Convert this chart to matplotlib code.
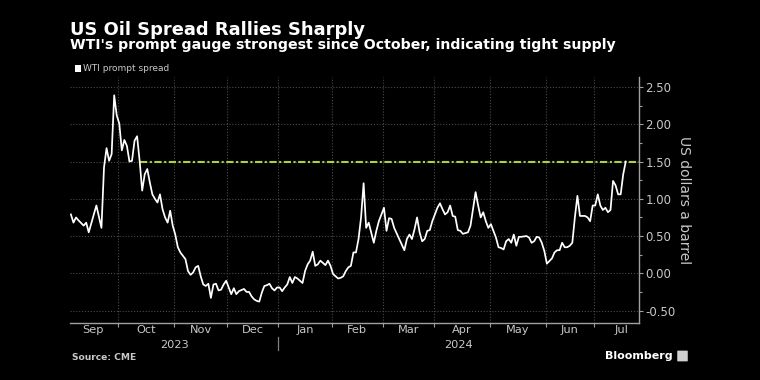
import matplotlib
matplotlib.use("Agg")
import matplotlib.pyplot as plt
import matplotlib.transforms as mtransforms
from matplotlib.patches import Rectangle, FancyBboxPatch
from matplotlib.ticker import FixedLocator, MultipleLocator, NullFormatter
import pandas as pd

# ---- data (WTI prompt spread, US$/bbl) ----
dates = [
    "2023-09-05", "2023-09-06", "2023-09-07", "2023-09-08", "2023-09-12", "2023-09-13",
    "2023-09-14", "2023-09-19", "2023-09-21", "2023-09-22", "2023-09-25", "2023-09-26",
    "2023-09-27", "2023-09-28", "2023-09-29", "2023-10-02", "2023-10-03", "2023-10-04",
    "2023-10-05", "2023-10-06", "2023-10-09", "2023-10-10", "2023-10-11", "2023-10-12",
    "2023-10-13", "2023-10-16", "2023-10-17", "2023-10-18", "2023-10-19", "2023-10-20",
    "2023-10-23", "2023-10-24", "2023-10-25", "2023-10-26", "2023-10-27", "2023-10-30",
    "2023-10-31", "2023-11-01", "2023-11-02", "2023-11-03", "2023-11-07", "2023-11-08",
    "2023-11-09", "2023-11-10", "2023-11-13", "2023-11-14", "2023-11-15", "2023-11-16",
    "2023-11-17", "2023-11-20", "2023-11-21", "2023-11-22", "2023-11-24", "2023-11-27",
    "2023-11-28", "2023-11-29", "2023-11-30", "2023-12-01", "2023-12-04", "2023-12-05",
    "2023-12-06", "2023-12-07", "2023-12-11", "2023-12-12", "2023-12-13", "2023-12-14",
    "2023-12-15", "2023-12-18", "2023-12-19", "2023-12-20", "2023-12-21", "2023-12-22",
    "2023-12-26", "2023-12-27", "2023-12-28", "2023-12-29", "2024-01-02", "2024-01-03",
    "2024-01-04", "2024-01-05", "2024-01-08", "2024-01-09", "2024-01-10", "2024-01-11",
    "2024-01-12", "2024-01-16", "2024-01-17", "2024-01-18", "2024-01-19", "2024-01-22",
    "2024-01-23", "2024-01-24", "2024-01-25", "2024-01-26", "2024-01-29", "2024-01-30",
    "2024-01-31", "2024-02-01", "2024-02-02", "2024-02-05", "2024-02-06", "2024-02-07",
    "2024-02-08", "2024-02-09", "2024-02-12", "2024-02-13", "2024-02-14", "2024-02-15",
    "2024-02-16", "2024-02-20", "2024-02-21", "2024-02-22", "2024-02-26", "2024-02-27",
    "2024-02-28", "2024-03-01", "2024-03-04", "2024-03-05", "2024-03-06", "2024-03-07",
    "2024-03-11", "2024-03-13", "2024-03-14", "2024-03-15", "2024-03-18", "2024-03-19",
    "2024-03-20", "2024-03-21", "2024-03-22", "2024-03-25", "2024-03-26", "2024-03-27",
    "2024-03-28", "2024-04-02", "2024-04-03", "2024-04-04", "2024-04-05", "2024-04-08",
    "2024-04-09", "2024-04-10", "2024-04-11", "2024-04-12", "2024-04-15", "2024-04-16",
    "2024-04-18", "2024-04-19", "2024-04-23", "2024-04-24", "2024-04-25", "2024-04-26",
    "2024-04-29", "2024-04-30", "2024-05-01", "2024-05-02", "2024-05-03", "2024-05-06",
    "2024-05-07", "2024-05-08", "2024-05-09", "2024-05-10", "2024-05-13", "2024-05-14",
    "2024-05-15", "2024-05-16", "2024-05-17", "2024-05-21", "2024-05-22", "2024-05-23",
    "2024-05-24", "2024-05-28", "2024-05-29", "2024-05-30", "2024-05-31", "2024-06-03",
    "2024-06-05", "2024-06-06", "2024-06-07", "2024-06-10", "2024-06-11", "2024-06-12",
    "2024-06-13", "2024-06-14", "2024-06-17", "2024-06-18", "2024-06-20", "2024-06-21",
    "2024-06-25", "2024-06-26", "2024-06-27", "2024-06-28", "2024-07-01", "2024-07-02",
    "2024-07-03", "2024-07-05", "2024-07-08", "2024-07-09", "2024-07-10", "2024-07-11",
    "2024-07-12", "2024-07-15", "2024-07-16", "2024-07-17", "2024-07-18",
]
values = [
    0.79, 0.68, 0.75, 0.71, 0.64, 0.68,
    0.55, 0.91, 0.61, 1.42, 1.68, 1.51,
    1.60, 2.39, 2.12, 2.01, 1.65, 1.79,
    1.71, 1.50, 1.51, 1.78, 1.84, 1.51,
    1.11, 1.33, 1.40, 1.22, 1.06, 1.00,
    0.95, 1.06, 0.86, 0.75, 0.68, 0.84,
    0.64, 0.52, 0.35, 0.28, 0.19, 0.03,
    -0.02, 0.01, 0.08, 0.10, -0.04, -0.15,
    -0.17, -0.14, -0.33, -0.15, -0.14, -0.23,
    -0.22, -0.15, -0.10, -0.19, -0.28, -0.20,
    -0.28, -0.24, -0.21, -0.25, -0.25, -0.31,
    -0.35, -0.37, -0.38, -0.26, -0.17, -0.16,
    -0.14, -0.20, -0.23, -0.19, -0.19, -0.24,
    -0.19, -0.15, -0.05, -0.13, -0.05, -0.07,
    -0.10, -0.13, 0.03, 0.12, 0.17, 0.29,
    0.10, 0.12, 0.17, 0.14, 0.11, 0.17,
    0.10, -0.01, -0.04, -0.07, -0.06, -0.04,
    0.03, 0.08, 0.10, 0.28, 0.28, 0.46,
    0.75, 1.21, 0.61, 0.68, 0.41, 0.57,
    0.70, 0.88, 0.57, 0.74, 0.73, 0.61,
    0.46, 0.31, 0.46, 0.52, 0.46, 0.59,
    0.75, 0.55, 0.43, 0.46, 0.57, 0.58,
    0.70, 0.88, 0.94, 0.86, 0.79, 0.82,
    0.91, 0.77, 0.76, 0.58, 0.57, 0.53,
    0.55, 0.64, 1.09, 0.91, 0.75, 0.82,
    0.70, 0.61, 0.66, 0.57, 0.48, 0.35,
    0.34, 0.32, 0.43, 0.46, 0.41, 0.52,
    0.37, 0.49, 0.49, 0.50, 0.48, 0.41,
    0.43, 0.49, 0.48, 0.41, 0.30, 0.13,
    0.20, 0.28, 0.31, 0.31, 0.41, 0.35,
    0.35, 0.37, 0.41, 0.75, 1.04, 0.77,
    0.77, 0.75, 0.70, 0.91, 0.91, 1.06,
    0.91, 0.85, 0.88, 0.82, 0.85, 1.24,
    1.18, 1.06, 1.06, 1.33, 1.50,
]
series_name = "WTI prompt spread"
month_labels = ["Sep", "Oct", "Nov", "Dec", "Jan", "Feb", "Mar", "Apr", "May", "Jun", "Jul"]
year_labels = ["2023", "2024"]
y_ticks = [-0.5, 0.0, 0.5, 1.0, 1.5, 2.0, 2.5]

# exchange holidays -> trading-day calendar (x axis is in trading days)
holidays = ["2023-09-04", "2023-11-23", "2023-12-25", "2024-01-01", "2024-01-15",
            "2024-02-19", "2024-03-29", "2024-05-27", "2024-06-19", "2024-07-04"]
cal = pd.bdate_range("2023-09-01", "2024-07-31")
cal = cal[~cal.isin(pd.to_datetime(holidays))]
pos = {d: i for i, d in enumerate(cal)}
xs = [pos[pd.Timestamp(d)] for d in dates]

# month boundaries / centres
months = pd.Series(range(len(cal)), index=cal)
grp = months.groupby([cal.year, cal.month])
m_first = grp.min().values
m_last = grp.max().values
bounds = [f - 0.5 for f in m_first]
centers = [(f + l) / 2.0 for f, l in zip(m_first, m_last)]

BG = "#000000"
FG = "#ffffff"
GRAY = "#c8c8c8"
GRID = "#4a4a4a"
GREEN = "#aed23e"

W, H = 760, 380
fig = plt.figure(figsize=(W / 100, H / 100), dpi=100, facecolor=BG)
ax = fig.add_axes([70 / W, 1 - 322.7 / H, (639 - 70) / W, (322.7 - 77) / H], facecolor=BG)

x_left, x_right = 0.64, 224.2
ax.set_xlim(x_left, x_right)
ax.set_ylim(-0.663, 2.635)

# grid
for b in bounds[1:]:
    if x_left < b < x_right:
        ax.axvline(b, color=GRID, lw=0.8, ls=(0, (1, 1.6)), zorder=1)
for yt in y_ticks:
    ax.axhline(yt, color=GRID, lw=0.8, ls=(0, (1, 1.6)), zorder=1)

# reference level line (latest value, back to last time it was this high)
last_val = values[-1]
start_i = max(i for i in range(len(values) - 1) if values[i] >= last_val - 1e-9)
ax.hlines(last_val, xs[start_i], x_right, color=GREEN, lw=1.5,
          linestyles=[(0, (3.5, 1.2, 1.0, 1.2))], zorder=2)

ax.plot(xs, values, color=FG, lw=1.25, zorder=3, solid_joinstyle="round")

# spines
for s in ["top", "left"]:
    ax.spines[s].set_visible(False)
for s in ["right", "bottom"]:
    ax.spines[s].set_color("#a0a0a0")
    ax.spines[s].set_linewidth(1.0)

# y axis on right
ax.yaxis.tick_right()
ax.yaxis.set_major_locator(FixedLocator(y_ticks))
ax.yaxis.set_minor_locator(MultipleLocator(0.25))
ax.set_yticklabels([f"{v:.2f}" for v in y_ticks])
ax.tick_params(axis="y", which="major", direction="out", length=3, width=0.8,
               color="#a0a0a0", labelcolor=GRAY, labelsize=8.5, pad=1.5)
ax.tick_params(axis="y", which="minor", direction="out", length=2.5, width=0.8,
               color="#a0a0a0")
ax.yaxis.set_label_position("right")
ax.set_ylabel("US dollars a barrel", color=GRAY, fontsize=10, rotation=270,
              labelpad=11)

# x axis: boundary ticks, month labels centred
vis_bounds = [b for b in bounds if x_left < b < x_right]
ax.xaxis.set_major_locator(FixedLocator(vis_bounds))
ax.xaxis.set_major_formatter(NullFormatter())
ax.xaxis.set_minor_locator(FixedLocator(centers))
ax.set_xticklabels(month_labels, minor=True)
ax.tick_params(axis="x", which="major", direction="out", length=3, width=0.8,
               color="#a0a0a0")
ax.tick_params(axis="x", which="minor", length=0, labelcolor=GRAY,
               labelsize=8.2, pad=1.8)

# years
blend = mtransforms.blended_transform_factory(ax.transData, fig.transFigure)
year_split = bounds[4]  # January boundary
ax.text((x_left + year_split) / 2, 1 - 344.5 / H, year_labels[0], transform=blend,
        ha="center", va="center", color=GRAY, fontsize=8.2)
ax.text((year_split + x_right) / 2, 1 - 344.5 / H, year_labels[1], transform=blend,
        ha="center", va="center", color=GRAY, fontsize=8.2)
ax.plot([year_split, year_split], [1 - 337 / H, 1 - 350 / H], transform=blend,
        color="#808080", lw=0.9, clip_on=False)

# titles
fig.text(70 / W, 1 - 35 / H, "US Oil Spread Rallies Sharply", color=FG,
         fontsize=12.9, fontweight="bold", va="baseline", ha="left")
fig.text(70 / W, 1 - 49.5 / H,
         "WTI's prompt gauge strongest since October, indicating tight supply",
         color=FG, fontsize=10.2, fontweight="bold", va="baseline", ha="left")

# legend
fig.patches.append(Rectangle((75 / W, 1 - 71.5 / H), 6 / W, 6 / H,
                             transform=fig.transFigure, facecolor=FG,
                             edgecolor="none"))
fig.text(83 / W, 1 - 68.5 / H, series_name, color=GRAY, fontsize=6.5,
         va="center", ha="left")

# footer
fig.text(72.5 / W, 1 - 357 / H, "Source: CME", color=GRAY, fontsize=6.6,
         fontweight="bold", va="center", ha="left")
fig.text(673 / W, 1 - 356 / H, "Bloomberg", color=FG, fontsize=8,
         fontweight="bold", va="center", ha="right")
fig.patches.append(FancyBboxPatch((678 / W, 1 - 361 / H), 9 / W, 10 / H,
                                  boxstyle="round,pad=0.001",
                                  transform=fig.transFigure,
                                  facecolor="#d0d0d0", edgecolor="none"))

fig.savefig("out.png", dpi=100, facecolor=BG)
